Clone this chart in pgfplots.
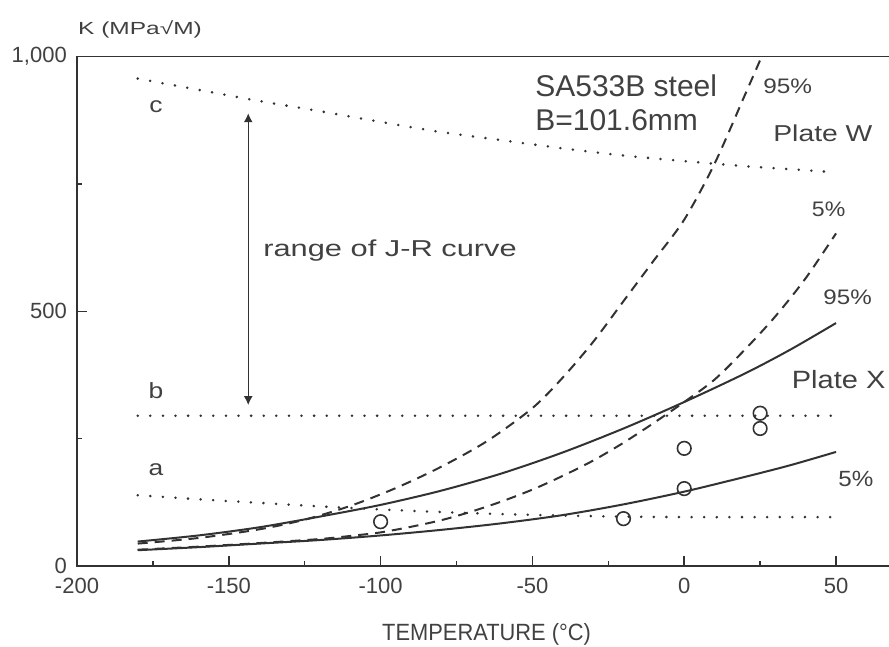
\documentclass[border=0pt]{standalone}
\usepackage{fontspec}
\setmainfont{Liberation Sans}
\usepackage{graphicx}
\usepackage{pgfplots}
\pgfplotsset{compat=1.18}
\usetikzlibrary{arrows.meta}
\definecolor{ink}{RGB}{50,50,50}
\definecolor{txt}{RGB}{65,65,65}
\newcommand{\lab}[3]{\scalebox{#1}[1]{\fontsize{#2}{#2}\selectfont #3}}

\pgfplotstableread{
T K
-180 44
-160 55
-140 72
-125 91
-110 118
-95 153
-80 195
-65 245
-50 310
-40 370
-30 440
-20 520
-10 600
0 680
10 790
20 925
25.5 1000
}\Wninetyfive

\pgfplotstableread{
T K
-180 32
-160 38
-140 45
-120 53
-110 59
-100 66
-90 77
-80 90
-70 107
-60 127
-50 150
-40 177
-30 207
-20 242
-10 281
0 322
10 366
20 425
30 490
40 565
50 653
}\Wfive

\pgfplotstableread{
T K
-180 48
-160 60
-140 76
-120 97
-100 120
-80 148
-60 182
-40 223
-20 270
0 322
20 378
35 425
50 477
}\Xninetyfive

\pgfplotstableread{
T K
-180 31
-160 37
-140 44
-120 51
-100 60
-80 71
-60 84
-40 100
-20 121
0 146
20 175
35 198
50 224
}\Xfive

\pgfplotstableread{
T K
-180 957
-160 935
-140 913
-120 893
-100 872
-80 852
-60 836
-40 820
-20 806
0 795
20 785
35 779
50 773
}\Lc

\pgfplotstableread{
T K
-180 139
-160 131
-140 124
-120 117
-100 111
-80 106
-60 102
-40 99
-20 97
0 96
25 96
50 96
}\La

\pgfplotstableread{
T K
-180 295
50 295
}\Lb

\pgfplotstableread{
T K
-100 87
-20 93
0 152
0 231
25 300
25 270
}\Pts

\begin{document}
\begin{tikzpicture}
\begin{axis}[
  scale only axis, width=850.1pt, height=509.3pt,
  xmin=-200, xmax=80, ymin=0, ymax=1000,
  axis line style={line width=1.6pt, draw=ink},
  xtick={-200,-150,-100,-50,0,50},
  minor xtick={-175,-125,-75,-25,25},
  ytick={0,500,1000}, yticklabels={0,500,{1,000}},
  minor ytick={250,750},
  xtick pos=left, ytick pos=left,
  tick align=inside,
  major tick length=10pt, minor tick length=5pt,
  tick style={draw=ink, line width=1.5pt},
  /pgf/number format/assume math mode=true,
  tick label style={font=\fontsize{22}{22}\selectfont, text=txt},
  xticklabel style={anchor=north, inner sep=0pt, yshift=-12pt},
  yticklabel style={anchor=east, inner sep=0pt, xshift=-10pt},
  xlabel={\lab{0.93}{23.5}{TEMPERATURE (°C)}},
  xlabel style={at={(axis cs:-65.1,0)}, anchor=base, yshift=-74pt, inner sep=0pt, text=txt},
  ylabel={\lab{1.4}{17.5}{K (MPa√M)}},
  ylabel style={rotate=-90, at={(axis description cs:0,1)}, anchor=base west, yshift=21.7pt, xshift=1pt, inner sep=0pt, text=txt},
  clip=false,
]
\coordinate (O) at (axis cs:-200,0);

% dotted limit lines a, b, c
\addplot[ink, line width=2.8pt, line cap=round, dash pattern=on 0pt off 12.6pt, smooth] table {\Lc};
\addplot[ink, line width=2.8pt, line cap=round, dash pattern=on 0pt off 12.6pt] table {\Lb};
\addplot[ink, line width=2.8pt, line cap=round, dash pattern=on 0pt off 12.6pt, smooth] table {\La};

% Plate W (dashed)
\addplot[ink, line width=2pt, dash pattern=on 10pt off 7pt, smooth] table {\Wninetyfive};
\addplot[ink, line width=2pt, dash pattern=on 10pt off 7pt, smooth] table {\Wfive};

% Plate X (solid)
\addplot[ink, line width=2pt, smooth] table {\Xninetyfive};
\addplot[ink, line width=2pt, smooth] table {\Xfive};

% data points
\addplot[only marks, mark=o, mark size=6.8pt, mark options={ink, line width=1.6pt}] table {\Pts};

% range arrow
\draw[ink, line width=1.4pt, {Latex[length=9pt,width=9pt]}-{Latex[length=9pt,width=9pt]}] (axis cs:-143.6,316) -- (axis cs:-143.6,889);

% labels
\node[text=txt, inner sep=0pt] at (axis cs:-174,902) {\lab{1.2}{22}{c}};
\node[text=txt, inner sep=0pt] at (axis cs:-174,345) {\lab{1.2}{22}{b}};
\node[text=txt, inner sep=0pt] at (axis cs:-174,189) {\lab{1.2}{22}{a}};
\node[text=txt, inner sep=0pt, anchor=base west] at (axis cs:-138.7,607) {\lab{1.34}{23}{range of J-R curve}};
\node[text=txt, inner sep=0pt, anchor=base west] at (axis cs:-49.1,921.5) {\lab{1.0}{30}{SA533B steel}};
\node[text=txt, inner sep=0pt, anchor=base west] at (axis cs:-49.1,856) {\lab{1.0}{30}{B=101.6mm}};
\node[text=txt, inner sep=0pt, anchor=base west] at (axis cs:26,928) {\lab{1.16}{21}{95\%}};
\node[text=txt, inner sep=0pt, anchor=base west] at (axis cs:29.3,833) {\lab{1.23}{23}{Plate W}};
\node[text=txt, inner sep=0pt, anchor=base west] at (axis cs:42,686) {\lab{1.1}{21}{5\%}};
\node[text=txt, inner sep=0pt, anchor=base west] at (axis cs:45.8,512.5) {\lab{1.15}{21}{95\%}};
\node[text=txt, inner sep=0pt, anchor=base west] at (axis cs:35.4,349) {\lab{1.16}{25}{Plate X}};
\node[text=txt, inner sep=0pt, anchor=base west] at (axis cs:50.7,157) {\lab{1.1}{22}{5\%}};
\end{axis}
\pgfresetboundingbox
\path[use as bounding box] (O) ++(-77pt,-80pt) rectangle ++(889pt,646pt);
\end{tikzpicture}
\end{document}
